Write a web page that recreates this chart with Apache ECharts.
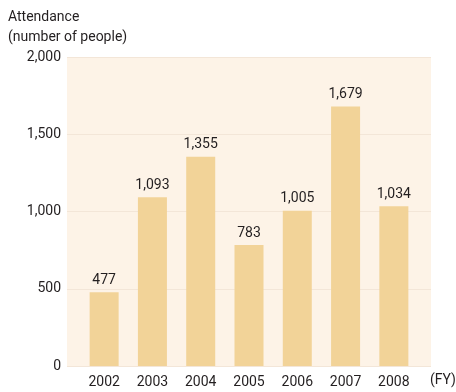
<!DOCTYPE html>
<html>
<head>
<meta charset="utf-8">
<script src="https://cdn.jsdelivr.net/npm/echarts@6/dist/echarts.min.js"></script>
<style>
  html, body { margin: 0; padding: 0; background: #ffffff; }
  #chart { width: 456px; height: 392px; }
</style>
</head>
<body>
<div id="chart"></div>
<script>
// Fiscal years and attendance counts
var years = ['2002', '2003', '2004', '2005', '2006', '2007', '2008'];
var attendance = [477, 1093, 1355, 783, 1005, 1679, 1034];
var yTicks = [0, 500, 1000, 1500, 2000];

var FONT = 'Roboto, "Liberation Sans", sans-serif';
var INK = '#231f20';

var chart = echarts.init(document.getElementById('chart'), null, { renderer: 'canvas' });

var yMin = yTicks[0];
var yMax = yTicks[yTicks.length - 1];
var yStep = yTicks[1] - yTicks[0];

chart.setOption({
  animation: false,
  title: {
    text: 'Attendance\n(number of people)',
    left: 8,
    top: 7,
    padding: 0,
    textStyle: { fontFamily: FONT, fontSize: 14, fontWeight: 'normal', color: INK, lineHeight: 20 }
  },
  // unit of the category axis
  graphic: [{
    type: 'text',
    left: 430,
    top: 373,
    style: { text: '(FY)', font: '14px ' + FONT, fill: INK }
  }],
  grid: [
    // shaded panel with gridlines
    { left: 67, right: 25, top: 57, bottom: 26, show: true, backgroundColor: '#fdf3e7', borderWidth: 0 },
    // bars
    { left: 80, right: 38, top: 57, bottom: 26 }
  ],
  xAxis: [
    { gridIndex: 0, type: 'category', data: years, show: false },
    {
      gridIndex: 1,
      type: 'category',
      data: years,
      axisLine: { show: false },
      axisTick: { show: false },
      axisLabel: { margin: 9, fontFamily: FONT, fontSize: 14, color: INK }
    }
  ],
  yAxis: [
    {
      gridIndex: 0,
      type: 'value',
      min: yMin, max: yMax, interval: yStep,
      axisLine: { show: false },
      axisTick: { show: false },
      splitLine: { lineStyle: { color: '#f3e6d8', width: 1 } },
      axisLabel: {
        margin: 6, fontFamily: FONT, fontSize: 14, color: INK,
        formatter: function (v) { return v.toLocaleString('en-US'); }
      }
    },
    { gridIndex: 1, type: 'value', min: yMin, max: yMax, interval: yStep, show: false, splitLine: { show: false } }
  ],
  series: [{
    type: 'bar',
    xAxisIndex: 1,
    yAxisIndex: 1,
    data: attendance,
    barWidth: 29,
    itemStyle: { color: '#f2d398' },
    label: {
      show: true,
      position: 'top',
      distance: 5,
      fontFamily: FONT,
      fontSize: 14,
      color: INK,
      formatter: function (p) { return p.value.toLocaleString('en-US'); }
    }
  }]
});
</script>
</body>
</html>
